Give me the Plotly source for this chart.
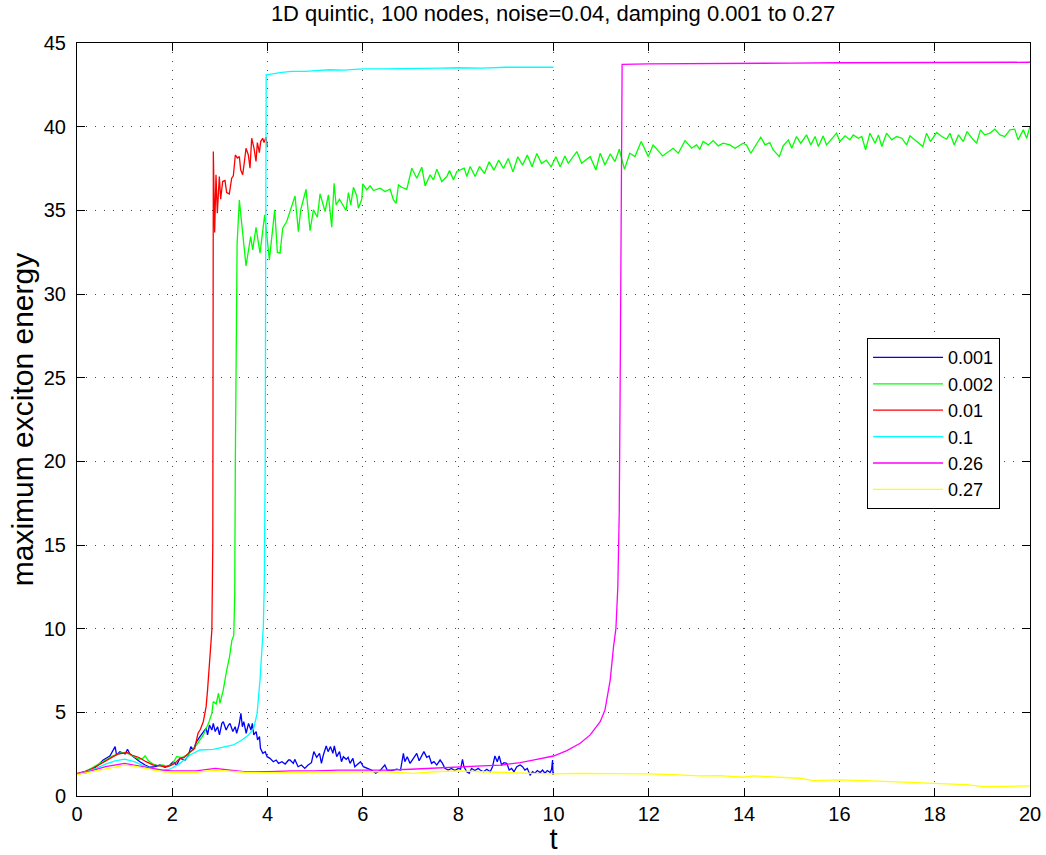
import plotly.graph_objects as go

# ---------------- data ----------------
labels = ["0.001", "0.002", "0.01", "0.1", "0.26", "0.27"]
colors = ["#0000ff", "#00ff00", "#ff0000", "#00ffff", "#ff00ff", "#ffff00"]

t_001 = [0, 0.20, 0.41, 0.55, 0.69, 0.80, 0.83, 0.90, 1.01, 1.06, 1.11, 1.22, 1.32, 1.43, 1.53, 1.64, 1.74, 1.85,
         1.95, 2.02, 2.09, 2.16, 2.27, 2.34, 2.39, 2.44, 2.51, 2.58, 2.65, 2.71, 2.74, 2.78, 2.83, 2.86, 2.90, 2.95,
         2.99, 3.04, 3.07, 3.13, 3.18, 3.21, 3.27, 3.32, 3.35, 3.40, 3.44, 3.47, 3.50, 3.55, 3.60, 3.65, 3.68, 3.71,
         3.76, 3.79, 3.83, 3.85, 3.90, 3.95, 3.99, 4.05, 4.12, 4.18, 4.23, 4.30, 4.37, 4.44,
         4.47, 4.54, 4.57, 4.64, 4.71, 4.78, 4.85, 4.92, 4.97, 5.03, 5.09, 5.13, 5.17, 5.23, 5.27, 5.32, 5.37, 5.40,
         5.45, 5.51, 5.55, 5.59, 5.65, 5.69, 5.73, 5.79, 5.83, 5.90, 5.95, 6.01, 6.08, 6.18, 6.27, 6.36, 6.46, 6.51,
         6.60, 6.71, 6.79, 6.85, 6.88, 6.93, 6.99, 7.06, 7.13, 7.18, 7.23, 7.28, 7.34, 7.39, 7.44, 7.49, 7.55, 7.62,
         7.67, 7.72, 7.79, 7.86, 7.93, 8.00, 8.05, 8.09, 8.12, 8.18, 8.23, 8.28, 8.35, 8.42,
         8.46, 8.53, 8.60, 8.67, 8.72, 8.77, 8.82, 8.86, 8.91, 8.96, 9.02, 9.07, 9.12, 9.17, 9.23, 9.30, 9.35, 9.40,
         9.45, 9.51, 9.56, 9.61, 9.66, 9.72, 9.77, 9.82, 9.87, 9.93, 9.96, 9.98, 9.99, 10.0]
v_001 = [1.32, 1.40, 1.76, 2.15, 2.39, 2.95, 2.45, 2.65, 2.51, 2.79, 2.51, 2.25, 2.05, 1.85, 1.72, 1.76, 1.85, 1.72,
         1.85, 2.05, 1.85, 2.25, 2.15, 2.45, 2.95, 2.75, 3.25, 3.55, 3.85, 4.05, 3.65, 4.24, 3.94, 4.34, 3.85, 4.14,
         3.65, 4.34, 4.44, 3.94, 4.24, 4.34, 3.85, 4.14, 3.75, 4.24, 4.94, 4.14, 4.44, 3.75, 4.34, 3.94, 4.34, 3.65,
         3.85, 3.35, 3.55, 2.85, 2.55, 2.65, 2.35, 2.25, 2.05, 2.15, 1.95, 2.05, 1.91, 2.15,
         2.15, 1.95, 2.19, 1.75, 1.85, 1.65, 1.85, 1.99, 2.65, 2.31, 2.55, 1.95, 2.45, 2.99, 2.65, 2.95, 2.55, 2.99,
         2.35, 2.65, 2.05, 2.35, 2.19, 2.31, 1.95, 2.25, 1.75, 1.95, 2.05, 1.75, 1.65, 1.55, 1.36, 1.52, 1.85, 1.55,
         1.52, 1.60, 1.55, 2.55, 2.05, 2.35, 1.95, 2.25, 2.55, 2.11, 2.35, 2.65, 2.31, 2.39, 1.95, 2.05, 1.85, 2.15,
         1.95, 1.65, 1.55, 1.65, 1.52, 1.65, 1.60, 2.19, 1.75, 1.45, 1.36, 1.65, 1.52, 1.65,
         1.55, 1.45, 1.60, 1.45, 1.75, 2.39, 2.05, 2.39, 1.85, 1.99, 1.95, 1.55, 1.65, 1.45, 1.75, 1.85, 1.75, 1.55,
         1.65, 1.26, 1.45, 1.36, 1.52, 1.40, 1.55, 1.36, 1.52, 1.40, 1.60, 2.15, 1.26, 1.45]

t_002 = [0, 0.15, 0.30, 0.45, 0.60, 0.75, 0.90, 1.00, 1.10, 1.20, 1.30, 1.38, 1.43, 1.50, 1.60, 1.70, 1.80, 1.90,
         2.00, 2.09, 2.20, 2.34, 2.51, 2.65, 2.76, 2.83, 2.86, 2.92, 2.97, 3.00, 3.04, 3.07, 3.14, 3.20, 3.25, 3.29,
         3.31, 3.323, 3.36, 3.407,
         3.547, 3.645, 3.687, 3.757, 3.841, 3.939, 4.037, 4.149, 4.205, 4.261, 4.317, 4.401, 4.576, 4.646, 4.695,
         4.807, 4.891, 4.961, 5.045, 5.101, 5.206, 5.276, 5.346, 5.395, 5.437, 5.507, 5.647, 5.696, 5.745, 5.801,
         5.871, 5.906, 5.976, 5.997, 6.081, 6.151, 6.221, 6.361, 6.466, 6.571, 6.641, 6.697, 6.746, 6.816, 6.921,
         7.026, 7.131, 7.236, 7.306, 7.411, 7.481, 7.551, 7.656, 7.761, 7.817, 7.901, 7.971, 8.125, 8.181, 8.251,
         8.356, 8.447,
         8.55, 8.65, 8.75, 8.85, 8.95, 9.05, 9.15, 9.25, 9.35, 9.45, 9.55, 9.65, 9.75, 9.85, 9.95, 10.05,
         10.14, 10.24, 10.31, 10.49, 10.59, 10.77, 10.89, 10.98, 11.08, 11.19, 11.29, 11.38, 11.49, 11.60, 11.71,
         11.84, 11.99, 12.09, 12.29, 12.51, 12.62, 12.76, 12.90, 13.00, 13.07, 13.14, 13.25, 13.35, 13.46, 13.56,
         13.70, 13.81, 13.98, 14.05, 14.14, 14.23, 14.35, 14.44, 14.54, 14.61, 14.74, 14.82, 14.93, 15.00, 15.10,
         15.19, 15.31, 15.40, 15.49, 15.56, 15.66, 15.73, 15.82, 15.94, 16.01, 16.12, 16.22, 16.29, 16.40, 16.47,
         16.55, 16.64, 16.75, 16.82, 16.89, 16.99, 17.10, 17.20, 17.31, 17.41, 17.48, 17.59, 17.75, 17.83, 17.91,
         18.04, 18.15, 18.25, 18.32, 18.41, 18.50, 18.60, 18.68, 18.78, 18.88, 18.96, 19.05, 19.16, 19.26, 19.37,
         19.47, 19.58, 19.68, 19.75, 19.86, 19.93, 20.0]
v_002 = [1.30, 1.45, 1.65, 1.90, 2.15, 2.40, 2.55, 2.60, 2.50, 2.35, 2.20, 2.25, 2.40, 2.10, 1.90, 1.80, 1.85, 1.75,
         1.90, 2.35, 2.30, 2.50, 3.05, 3.65, 4.34, 4.94, 5.64, 5.50, 6.14, 5.54, 6.00, 6.34, 7.50, 8.30, 9.30, 9.60,
         12.0, 20.0, 33.0, 35.62,
         31.68, 33.43, 32.64, 33.99, 32.44, 34.73, 32.04, 35.03, 32.48, 32.44, 33.93, 34.33, 35.86, 33.73, 35.03,
         36.26, 33.79, 35.03, 34.59, 35.98, 34.93, 35.92, 33.99, 36.62, 35.33, 35.66, 34.99, 36.06, 35.33, 36.38,
         35.86, 35.13, 35.66, 36.58, 36.22, 36.46, 36.18, 36.32, 36.12, 36.26, 35.62, 35.42, 36.52, 36.38, 36.26,
         37.52, 36.92, 37.58, 36.46, 37.12, 36.82, 37.46, 36.72, 37.02, 37.38, 36.82, 37.32, 37.52, 37.02, 37.62,
         37.02, 37.62,
         37.20, 37.90, 37.40, 38.00, 37.50, 38.10, 37.30, 38.20, 37.70, 38.30, 37.60, 38.40, 37.80, 38.00, 37.60,
         38.20,
         37.61, 38.25, 37.81, 38.51, 37.81, 38.21, 37.41, 38.41, 37.71, 38.37, 37.91, 38.65, 37.45, 38.41, 38.21,
         39.11, 38.21, 38.91, 38.25, 38.71, 38.41, 39.17, 38.71, 38.91, 38.65, 39.11, 38.91, 39.17, 38.85, 39.01,
         38.91, 38.71, 39.01, 38.91, 38.41, 38.81, 39.37, 38.91, 39.05, 38.61, 38.21, 38.85, 39.21, 38.71, 39.41,
         39.01, 39.51, 38.91, 39.41, 38.81, 39.45, 38.91, 39.21, 39.61, 39.11, 39.45, 39.21, 39.51, 39.31, 39.41,
         38.61, 39.61, 39.01, 39.51, 38.81, 39.61, 39.21, 39.41, 39.31, 38.91, 39.45, 39.21, 38.81, 39.61, 39.11,
         39.65, 39.41, 39.25, 39.61, 38.91, 39.51, 39.11, 39.71, 39.31, 39.01, 39.81, 39.51, 39.61, 39.85, 39.51,
         39.41, 39.81, 39.85, 39.21, 39.81, 39.31, 40.01]

t_01 = [0, 0.15, 0.30, 0.45, 0.60, 0.75, 0.85, 0.95, 1.05, 1.15, 1.30, 1.45, 1.60, 1.75, 1.85, 1.95, 2.05, 2.16,
        2.25, 2.34, 2.41, 2.47, 2.54, 2.59, 2.65, 2.71, 2.74, 2.78, 2.83, 2.85,
        2.861, 2.889, 2.917, 2.945, 2.987, 3.015, 3.057, 3.106, 3.141, 3.197, 3.246, 3.281, 3.323, 3.365, 3.407,
        3.435, 3.477, 3.505, 3.547, 3.596, 3.631, 3.666, 3.715, 3.757, 3.785, 3.827, 3.855, 3.897, 3.925, 3.967,
        3.995]
v_01 = [1.35, 1.45, 1.60, 1.85, 2.10, 2.35, 2.50, 2.55, 2.60, 2.45, 2.30, 2.05, 1.85, 1.80, 1.75, 1.80, 1.95, 2.25,
        2.30, 2.55, 2.70, 2.85, 3.75, 3.99, 4.44, 5.34, 6.34, 7.90, 9.90, 15.0,
        38.51, 33.67, 37.13, 34.83, 37.02, 35.67, 36.72, 36.78, 36.06, 35.98, 36.92, 37.06, 38.31, 38.12, 38.21,
        37.42, 37.13, 37.72, 38.71, 38.31, 37.52, 39.31, 38.71, 37.92, 39.05, 38.45, 39.11, 39.31, 39.05, 39.37,
        38.77]

t_1 = [0, 0.2, 0.4, 0.6, 0.8, 1.0, 1.2, 1.4, 1.6, 1.8, 1.95, 2.16, 2.37, 2.58, 2.86, 3.07, 3.28, 3.46, 3.60, 3.71,
       3.78, 3.84, 3.89, 3.91, 3.93, 3.95, 3.96, 3.97, 4.1, 4.3, 4.5, 4.8, 5.0, 5.3, 5.6, 6.0, 6.4, 6.8, 7.2, 7.6,
       8.0, 8.5, 9.0, 9.5, 10.0]
v_1 = [1.30, 1.45, 1.65, 1.90, 2.10, 2.20, 2.05, 1.80, 1.60, 1.55, 1.60, 1.95, 2.45, 2.75, 2.79, 2.91, 3.05, 3.35,
       3.65, 4.05, 4.94, 6.90, 9.00, 10.1, 12.6, 20.0, 32.0, 43.1, 43.15, 43.25, 43.30, 43.30, 43.35, 43.40, 43.38,
       43.45, 43.45, 43.48, 43.50, 43.50, 43.52, 43.50, 43.55, 43.55, 43.55]

t_26 = [0, 0.3, 0.6, 0.9, 1.0, 1.2, 1.5, 1.8, 2.0, 2.5, 2.9, 3.2, 3.5, 4.0, 4.5, 5.0, 5.5, 6.0, 6.5, 7.0, 7.5, 8.0,
        8.5, 8.9, 9.3, 9.57, 10.0, 10.28, 10.56, 10.77, 10.98, 11.08, 11.19, 11.26, 11.31, 11.35, 11.38, 11.40,
        11.42, 11.44, 12, 13, 14, 15, 16, 17, 18, 19, 20]
v_26 = [1.30, 1.50, 1.75, 1.90, 1.95, 1.85, 1.70, 1.55, 1.50, 1.50, 1.65, 1.55, 1.45, 1.45, 1.50, 1.50, 1.55, 1.55,
        1.55, 1.60, 1.68, 1.75, 1.80, 1.85, 2.00, 2.15, 2.39, 2.71, 3.15, 3.65, 4.44, 5.14, 6.93, 8.93, 10.0, 12.5,
        17.0, 25.0, 35.0, 43.72, 43.75, 43.78, 43.80, 43.80, 43.82, 43.82, 43.83, 43.84, 43.85]

t_27 = [0, 0.3, 0.6, 0.9, 1.0, 1.2, 1.5, 1.8, 2.0, 2.5, 2.9, 3.2, 3.5, 4.0, 4.5, 5.0, 5.5, 6.0, 6.5, 7.05, 7.5,
        8.0, 8.5, 9.0, 9.5, 10.0, 10.5, 11.0, 11.5, 12.0, 12.5, 13.07, 13.5, 13.98, 14.2, 14.6, 15.17, 15.45,
        16.01, 16.5, 16.92, 17.5, 17.97, 18.67, 19.02, 19.5, 20]
v_27 = [1.28, 1.45, 1.65, 1.80, 1.85, 1.78, 1.60, 1.45, 1.42, 1.42, 1.55, 1.50, 1.42, 1.40, 1.42, 1.45, 1.45,
        1.45, 1.45, 1.35, 1.45, 1.50, 1.45, 1.40, 1.35, 1.32, 1.35, 1.35, 1.32, 1.32, 1.28, 1.20, 1.22, 1.12,
        1.20, 1.15, 1.06, 0.92, 0.96, 0.92, 0.86, 0.82, 0.76, 0.68, 0.56, 0.58, 0.60]

x_ticks = [0, 2, 4, 6, 8, 10, 12, 14, 16, 18, 20]
y_ticks = [0, 5, 10, 15, 20, 25, 30, 35, 40, 45]

series_t = [t_001, t_002, t_01, t_1, t_26, t_27]
series_v = [v_001, v_002, v_01, v_1, v_26, v_27]

# ---------------- figure ----------------
FONT = "Liberation Sans, Arial, Helvetica, sans-serif"
fig = go.Figure()
for lab, col, tt, vv in zip(labels, colors, series_t, series_v):
    fig.add_trace(go.Scatter(x=tt, y=vv, mode="lines", name=lab,
                             line=dict(color=col, width=1.3)))

axis_common = dict(
    showline=True, linecolor="black", linewidth=1, mirror="ticks",
    ticks="inside", ticklen=8, tickcolor="black", tickwidth=1,
    showgrid=True, gridcolor="#444444", gridwidth=1, griddash="1px,8px",
    zeroline=False, automargin=False,
    tickfont=dict(family=FONT, size=20, color="black"),
)

fig.update_layout(
    width=1046, height=855,
    margin=dict(l=77, r=16, t=43, b=59),
    paper_bgcolor="white", plot_bgcolor="white",
    title=dict(text="1D quintic, 100 nodes, noise=0.04, damping 0.001 to 0.27",
               x=0.5288, xanchor="center", y=0.984, yanchor="middle",
               font=dict(family=FONT, size=22, color="black")),
    xaxis=dict(range=[0, 20], tickvals=x_ticks,
               title=dict(text="t", font=dict(family=FONT, size=29, color="black"), standoff=8),
               **axis_common),
    yaxis=dict(range=[0, 45], tickvals=y_ticks, ticklabelstandoff=6,
               title=dict(text="maximum exciton energy", font=dict(family=FONT, size=30, color="black"),
                          standoff=1),
               **axis_common),
    legend=dict(x=0.829, y=0.608, xanchor="left", yanchor="top",
                bgcolor="white", bordercolor="black", borderwidth=1,
                font=dict(family=FONT, size=18, color="black"),
                itemwidth=70, tracegroupgap=0, entrywidth=146, entrywidthmode="pixels"),
    showlegend=True,
)

fig.write_html("out.html", config={"displayModeBar": False},
               post_script="document.body.style.margin='0';")
